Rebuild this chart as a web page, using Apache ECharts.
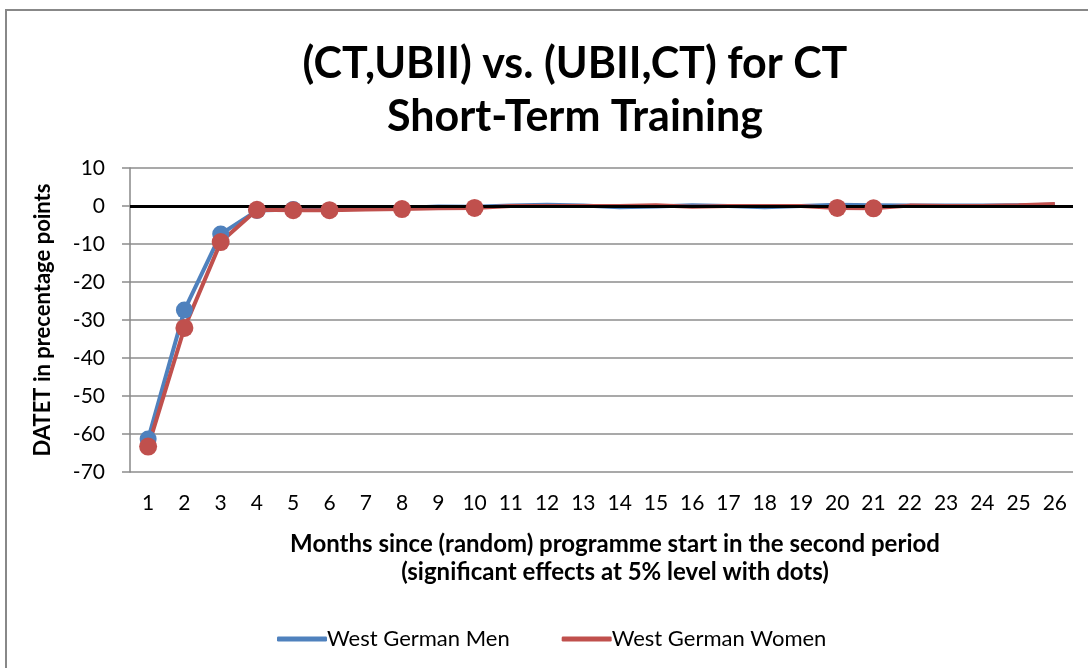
<!DOCTYPE html>
<html>
<head>
<meta charset="utf-8">
<script src="https://cdn.jsdelivr.net/npm/echarts@6/dist/echarts.min.js"></script>
<style>html,body{margin:0;padding:0;background:#fff}#c{width:1088px;height:668px}</style>
</head>
<body>
<div id="c"></div>
<script>
const months = ['1','2','3','4','5','6','7','8','9','10','11','12','13','14','15','16','17','18','19','20','21','22','23','24','25','26'];
const menValues = [-61.3,-27.4,-7.4,-1.2,-0.9,-0.9,-0.6,-0.5,-0.1,-0.2,0.1,0.3,0.1,-0.3,-0.1,0.2,0.0,-0.3,0.0,0.3,0.2,0.1,0.1,0.1,0.2,0.3];
const womenValues = [-63.3,-32.1,-9.5,-1.0,-1.1,-1.1,-0.9,-0.8,-0.6,-0.5,0.0,0.0,0.0,0.0,0.2,-0.2,0.0,0.0,0.0,-0.5,-0.6,0.1,0.0,0.0,0.2,0.5];
const menSignificant = ['1','2','3','4','5'];
const womenSignificant = ['1','2','3','4','5','6','8','10','20','21'];
const yTicks = {min:-70, max:10, interval:10};

const FONT = 'Lato';
const BLUE = '#4F81BD', RED = '#C0504D';

function dots(values, sig){
  return months.map((m,i)=> sig.includes(m) ? values[i] : null);
}

const chart = echarts.init(document.getElementById('c'));
chart.setOption({
  animation:false,
  backgroundColor:'#fff',
  textStyle:{fontFamily:FONT},
  title:{
    text:'(CT,UBII) vs. (UBII,CT) for CT\nShort-Term Training',
    left:570, top:33, textAlign:'center',
    textStyle:{fontFamily:FONT,fontSize:43,fontWeight:'bold',color:'#000',lineHeight:53}
  },
  graphic:[
    {type:'rect',shape:{x:6,y:10,width:1300,height:900},style:{fill:'none',stroke:'#888',lineWidth:2},silent:true,z:-1},
    {type:'text',x:615,y:544,style:{text:'Months since (random) programme start in the second period',font:'bold 24px Lato',fill:'#000',textAlign:'center',textVerticalAlign:'middle'}},
    {type:'text',x:615,y:572,style:{text:'(significant effects at 5% level with dots)',font:'bold 24px Lato',fill:'#000',textAlign:'center',textVerticalAlign:'middle'}}
  ],
  legend:{
    left:272, top:623, itemWidth:50, itemHeight:5, itemGap:52,
    icon:'roundRect',
    data:['West German Men','West German Women'],
    textStyle:{fontFamily:FONT,fontSize:22,color:'#000',padding:[0,0,0,-5]}
  },
  grid:{left:130,right:15,top:168,bottom:196},
  xAxis:{
    type:'category',data:months,boundaryGap:true,
    axisLine:{show:false},axisTick:{show:false},
    axisLabel:{fontFamily:FONT,fontSize:21,color:'#000',margin:21,interval:0},
    splitLine:{show:false}
  },
  yAxis:{
    type:'value',min:yTicks.min,max:yTicks.max,interval:yTicks.interval,
    name:'DATET in precentage points',nameLocation:'middle',nameGap:76,
    nameTextStyle:{fontFamily:FONT,fontSize:22,fontWeight:'bold',color:'#000'},
    axisLine:{show:true,lineStyle:{color:'#888',width:1.5}},
    axisTick:{show:true,length:8,lineStyle:{color:'#8c8c8c',width:1.5}},
    axisLabel:{fontFamily:FONT,fontSize:21,color:'#000',margin:25},
    splitLine:{show:true,lineStyle:{color:'#8c8c8c',width:1.5}}
  },
  series:[
    {name:'West German Men',type:'line',data:menValues,symbol:'none',lineStyle:{color:BLUE,width:4},itemStyle:{color:BLUE},z:2},
    {name:'West German Women',type:'line',data:womenValues,symbol:'none',lineStyle:{color:RED,width:4},itemStyle:{color:RED},z:2},
    {type:'line',data:[],z:3,silent:true,
     markLine:{silent:true,symbol:'none',label:{show:false},lineStyle:{color:'#000',width:3,type:'solid'},data:[{yAxis:0}]}},
    {type:'scatter',data:dots(menValues,menSignificant),symbolSize:17,itemStyle:{color:BLUE,opacity:1},z:4,silent:true},
    {type:'scatter',data:dots(womenValues,womenSignificant),symbolSize:18,itemStyle:{color:RED,opacity:1},z:5,silent:true}
  ]
});
</script>
</body>
</html>
